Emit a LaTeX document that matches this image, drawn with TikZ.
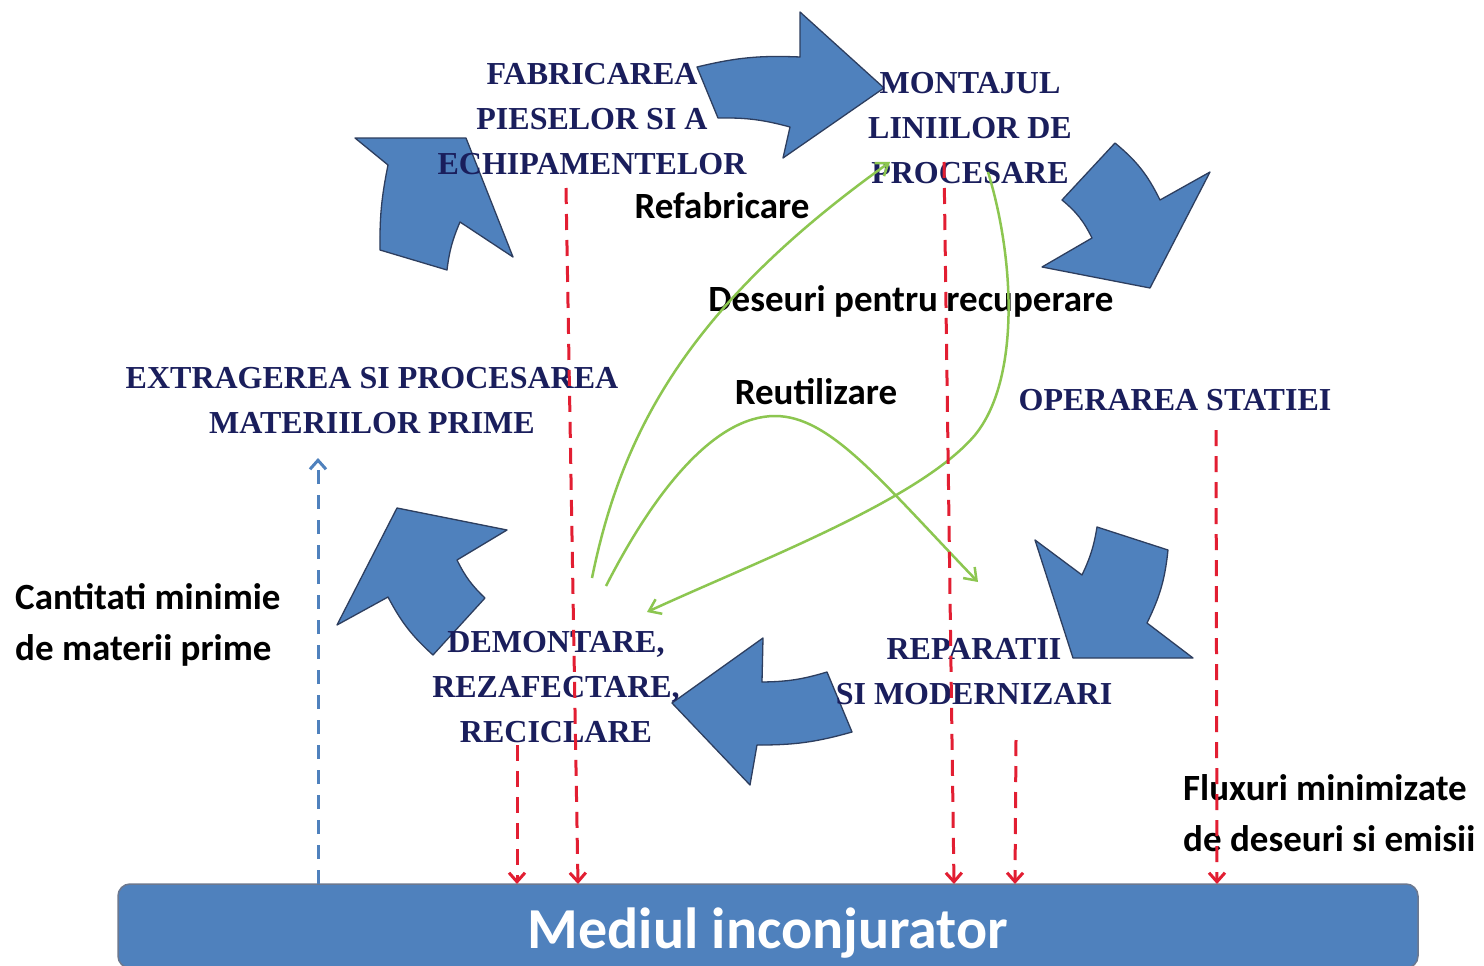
\documentclass[tikz,border=0pt]{standalone}
\usepackage{fontspec}
\setmainfont{Liberation Serif}
\newfontfamily\labelfont{Carlito}
\usetikzlibrary{arrows.meta}
\definecolor{stagenavy}{RGB}{26,30,92}
\definecolor{flowblue}{RGB}{79,129,189}
\definecolor{flowedge}{RGB}{45,62,95}
\definecolor{wastered}{RGB}{226,30,50}
\definecolor{reusegreen}{RGB}{140,198,80}
\tikzset{
  stagetext/.style={text=stagenavy, font=\bfseries\fontsize{32}{45}\selectfont, align=center, inner sep=0pt},
  flowlabel/.style={text=black, font=\labelfont\bfseries\fontsize{37}{51}\selectfont, align=left, inner sep=0pt},
  blockarrow/.style={fill=flowblue, draw=flowedge, line width=1.3pt, line join=round},
  wasteline/.style={wastered, line width=3pt, dash pattern=on 16pt off 10pt, -{Straight Barb[length=9pt,width=16pt]}},
  rawline/.style={flowblue, line width=3pt, dash pattern=on 14pt off 11pt, -{Straight Barb[length=9pt,width=16pt]}},
  reuseline/.style={reusegreen, line width=2.5pt, -{Straight Barb[length=11pt,width=16pt]}},
  envbar/.style={fill=flowblue, draw=flowedge!70, line width=1.5pt, rounded corners=12pt,
    text=white, font=\labelfont\bfseries\fontsize{58}{60}\selectfont, text height=44pt, text depth=0pt}
}
\begin{document}
\begin{tikzpicture}[x=1pt, y=-1pt]
  \useasboundingbox[fill=white] (0,0) rectangle (1484,966);
  % block arrows of the cycle
  \draw[blockarrow] (355,138) -- (466,138) -- (513,257) -- (460,222)
    to[bend right=8] (447,270) -- (380,250) to[bend left=6] (388,165) -- cycle;
  \draw[blockarrow] (697,67) to[bend left=8] (800,57) -- (800,12) -- (884,88)
    -- (783,158) -- (790,127) to[bend right=8] (718,118) -- cycle;
  \draw[blockarrow] (1062,200) -- (1115,143) to[bend left=12] (1160,200) -- (1210,172)
    -- (1150,288) -- (1042,267) -- (1092,238) to[bend right=12] cycle;
  \draw[blockarrow] (1035,540) -- (1082,575) to[bend right=8] (1097,527) -- (1168,550)
    to[bend left=10] (1147,623) -- (1193,658) -- (1073,658) -- cycle;
  \draw[blockarrow] (672,703) -- (763,638) -- (762,682) to[bend right=8] (827,672)
    -- (852,732) to[bend left=8] (757,745) -- (750,785) -- cycle;
  \draw[blockarrow] (397,508) -- (507,530) -- (457,560) to[bend right=10] (485,598)
    -- (433,655) to[bend left=10] (388,597) -- (337,625) -- cycle;
  % stages
  \node[stagetext] (fab) at (592,119) {FABRICAREA\\PIESELOR SI A\\ECHIPAMENTELOR};
  \node[stagetext] (mont) at (970,128) {MONTAJUL\\LINIILOR DE\\PROCESARE};
  \node[stagetext] (extr) at (372,401) {EXTRAGEREA SI PROCESAREA\\MATERIILOR PRIME};
  \node[stagetext] (oper) at (1175,400) {OPERAREA STATIEI};
  \node[stagetext] (demo) at (556,687) {DEMONTARE,\\REZAFECTARE,\\RECICLARE};
  \node[stagetext] (repa) at (974,672) {REPARATII\\SI MODERNIZARI};
  % labels
  \node[flowlabel] (refab) at (722,206) {Refabricare};
  \node[flowlabel] (deseu) at (911,301) {Deseuri pentru recuperare};
  \node[flowlabel] (reuti) at (816,392) {Reutilizare};
  \node[flowlabel, anchor=west] (cant) at (15,625) {Cantitati minimie\\de materii prime};
  \node[flowlabel, anchor=west] (flux) at (1183,813) {Fluxuri minimizate\\de deseuri si emisii};
  \node[envbar, minimum width=1300pt, minimum height=84pt] (env) at (768,926) {Mediul inconjurator};
  % end points
  \coordinate (w1s) at (566,188);  \coordinate (w1e) at (578,884);
  \coordinate (w2s) at (517,745);  \coordinate (w2e) at (517,884);
  \coordinate (w3s) at (944,162);  \coordinate (w3e) at (954,884);
  \coordinate (w4s) at (1016,740); \coordinate (w4e) at (1015,884);
  \coordinate (w5s) at (1216,430); \coordinate (w5e) at (1217,884);
  \coordinate (raws) at (318,884); \coordinate (rawe) at (318,458);
  \coordinate (g1s) at (592,578);  \coordinate (g1e) at (890,162);
  \coordinate (g2s) at (606,586);  \coordinate (g2m) at (775,416);  \coordinate (g2e) at (978,582);
  \coordinate (g3s) at (988,172);  \coordinate (g3m) at (975,435);  \coordinate (g3e) at (647,612);
  % flows
  \draw[rawline] (raws) -- (rawe);
  \draw[reuseline] (g1s) .. controls (622,430) and (690,305) .. (g1e);
  \draw[reuseline] (g2s) .. controls (655,490) and (715,416) .. (g2m)
    .. controls (830,416) and (880,480) .. (g2e);
  \draw[reuseline] (g3s) .. controls (1015,260) and (1020,380) .. (g3m)
    .. controls (920,500) and (760,560) .. (g3e);
  \foreach \w in {w1,w2,w3,w4,w5}
    \draw[wasteline] (\w s) -- (\w e);
\end{tikzpicture}
\end{document}
